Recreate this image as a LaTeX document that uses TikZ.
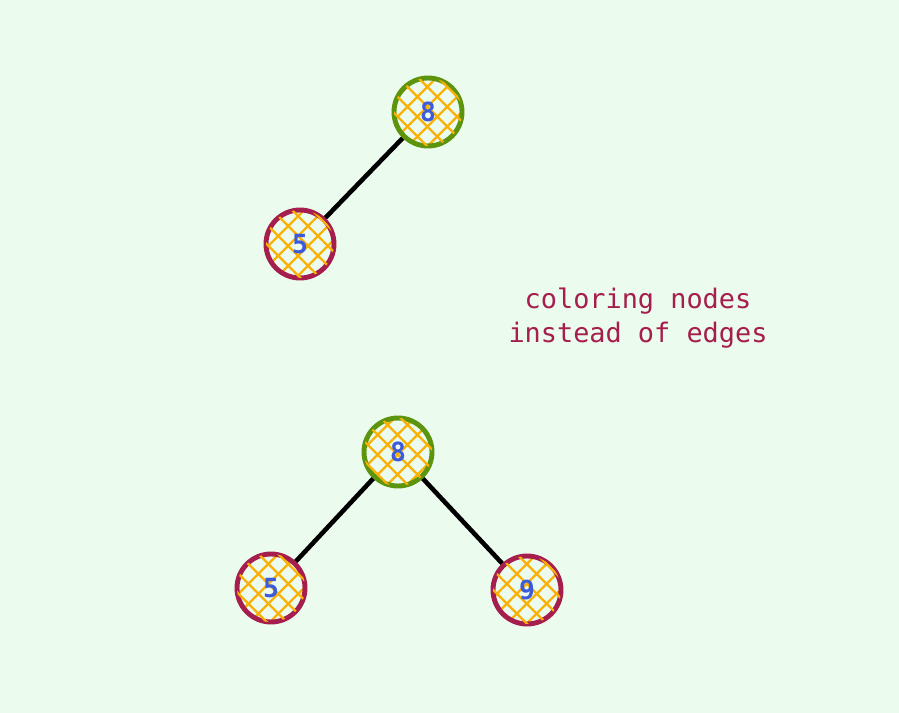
\documentclass[tikz,border=0pt]{standalone}
\usepackage{fontspec}
\setmonofont{DejaVu Sans Mono}
\usetikzlibrary{patterns.meta}
\definecolor{bgmint}{HTML}{EBFBEE}
\definecolor{leafgreen}{HTML}{5C940D}
\definecolor{berry}{HTML}{A61E4D}
\definecolor{hatchyellow}{HTML}{FAB005}
\definecolor{digitblue}{HTML}{3B5BDB}
\tikzset{
  vert/.style={circle,minimum size=68*0.02cm,line width=2.8pt,inner sep=0pt,
    font=\ttfamily\bfseries\fontsize{15}{15}\selectfont,text=digitblue,
    preaction={pattern={Lines[angle=45,distance=8pt,line width=1.3pt]},pattern color=hatchyellow},
    postaction={pattern={Lines[angle=-45,distance=8pt,line width=1.3pt]},pattern color=hatchyellow}},
  rootv/.style={vert,draw=leafgreen},
  leafv/.style={vert,draw=berry},
  link/.style={line width=2.6pt,black}
}
\begin{document}
\begin{tikzpicture}[x=0.02cm,y=-0.02cm]
\fill[bgmint] (0,0) rectangle (899,713);
\useasboundingbox (0,0) rectangle (899,713);
% first tree
\path (428,112) node[rootv] (v0) {8};
\path (300,244) node[leafv] (v1) {5};
\draw[link] (v0) -- (v1);
% second tree
\path (398,452) node[rootv] (v2) {8};
\path (271,588) node[leafv] (v3) {5};
\path (527,590) node[leafv] (v4) {9};
\draw[link] (v2) -- (v3);
\draw[link] (v2) -- (v4);
% note
\path (638,318) node[align=center,text=berry,font=\ttfamily\fontsize{15.3}{19}\selectfont] (v5) {coloring nodes\\instead of edges};
\end{tikzpicture}
\end{document}
